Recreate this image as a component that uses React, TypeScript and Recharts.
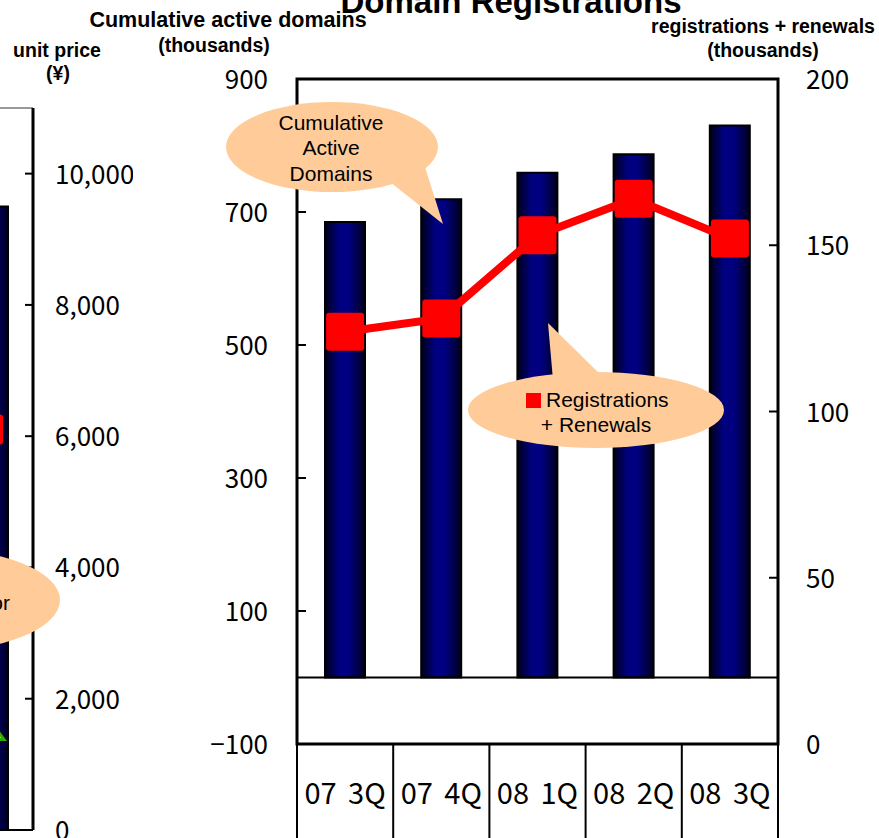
import React from "react";
import {
  ComposedChart,
  Bar,
  Line,
  XAxis,
  YAxis,
  ReferenceArea,
  ReferenceLine,
} from "recharts";

const quarters = ["07 3Q", "07 4Q", "08 1Q", "08 2Q", "08 3Q"];
const activeDomains = [685, 719, 759, 787, 830];
const regsRenewals = [124, 128, 153, 164, 152];
const domainTicks = [-100, 100, 300, 500, 700, 900];
const regTicks = [0, 50, 100, 150, 200];

// the neighbouring unit price chart, only its right edge is on the page
const priceCats = ["08 3Q"];
const priceBar = [9500];
const priceRed = [6100];
const priceGreen = [1500];
const priceTicks = [0, 2000, 4000, 6000, 8000, 10000];

const data = quarters.map((q, i) => ({ q, domains: activeDomains[i], regs: regsRenewals[i] }));
const priceData = priceCats.map((c, i) => ({
  c,
  bar: priceBar[i],
  red: priceRed[i],
  green: priceGreen[i],
}));

const PLOT_LEFT = 297;
const PLOT_RIGHT = 778;
const BAND = (PLOT_RIGHT - PLOT_LEFT) / quarters.length;
const PEACH = "#ffcc99";
const tickFont = "'Noto Sans CJK JP', sans-serif";
const textFont = "'Liberation Sans', Arial, sans-serif";

const fmt = (v: number) => (v < 0 ? "\u2212" + Math.abs(v) : String(v));

const LeftTick = (props: any) => {
  const { x, y, payload } = props;
  return (
    <g>
      <line x1={PLOT_LEFT} x2={PLOT_LEFT + 9} y1={y} y2={y} stroke="#000" strokeWidth={2} />
      <text x={x} y={y + 10} textAnchor="end" fontSize={26} fontFamily={tickFont} fill="#000">
        {fmt(payload.value)}
      </text>
    </g>
  );
};

const RightTick = (props: any) => {
  const { x, y, payload } = props;
  return (
    <g>
      <line x1={PLOT_RIGHT - 9} x2={PLOT_RIGHT} y1={y} y2={y} stroke="#000" strokeWidth={2} />
      <text x={x} y={y + 10} textAnchor="start" fontSize={26} fontFamily={tickFont} fill="#000">
        {payload.value}
      </text>
    </g>
  );
};

const QuarterTick = (props: any) => {
  const { x, y, payload, index } = props;
  return (
    <g>
      <line x1={x - BAND / 2} x2={x - BAND / 2} y1={y} y2={y + 100} stroke="#000" strokeWidth={2} />
      {index === quarters.length - 1 && (
        <line x1={x + BAND / 2} x2={x + BAND / 2} y1={y} y2={y + 100} stroke="#000" strokeWidth={2} />
      )}
      <text
        x={x}
        y={y + 60}
        textAnchor="middle"
        fontSize={29}
        wordSpacing={5}
        fontFamily={tickFont}
        fill="#000"
      >
        {payload.value}
      </text>
    </g>
  );
};

const PriceTick = (props: any) => {
  const { x, y, payload } = props;
  return (
    <g>
      <line x1={x - 30} x2={x - 22} y1={y} y2={y} stroke="#000" strokeWidth={2} />
      <text x={x} y={y + 10} textAnchor="start" fontSize={26} fontFamily={tickFont} fill="#000">
        {payload.value.toLocaleString("en-US")}
      </text>
    </g>
  );
};

const makeSquare = (size: number) => (props: any) => {
  const { cx, cy, index } = props;
  if (cx == null || cy == null) return <g key={index} />;
  return (
    <rect key={index} x={cx - size / 2} y={cy - size / 2} width={size} height={size} rx={3} fill="#ff0000" />
  );
};

const TriangleDot = (props: any) => {
  const { cx, cy, index } = props;
  if (cx == null || cy == null) return <g key={index} />;
  return (
    <polygon
      key={index}
      points={`${cx},${cy - 14} ${cx + 16},${cy + 8} ${cx - 16},${cy + 8}`}
      fill="#ffff00"
      stroke="#33aa00"
      strokeWidth={3}
    />
  );
};

const Gradient = ({ id }: { id: string }) => (
  <defs>
    <linearGradient id={id} x1="0" y1="0" x2="1" y2="0">
      <stop offset="0%" stopColor="#000018" />
      <stop offset="35%" stopColor="#000080" />
      <stop offset="60%" stopColor="#000080" />
      <stop offset="100%" stopColor="#00001c" />
    </linearGradient>
  </defs>
);

export default function App() {
  return (
    <div
      style={{
        position: "relative",
        width: 879,
        height: 838,
        overflow: "hidden",
        background: "#fff",
      }}
    >
      <style>{"html,body{margin:0;padding:0;}"}</style>
      <div style={{ position: "absolute", left: -57, top: 0 }}>
        <ComposedChart width={190} height={850} data={priceData} margin={{ top: 108, right: 0, bottom: 0, left: 0 }}>
          <Gradient id="navyBarPrice" />
          <XAxis dataKey="c" height={20} tick={false} tickLine={false} axisLine={{ stroke: "#000", strokeWidth: 2 }} />
          <YAxis
            orientation="right"
            width={100}
            domain={[0, 11000]}
            ticks={priceTicks}
            interval={0}
            axisLine={{ stroke: "#000", strokeWidth: 3 }}
            tickLine={false}
            tickSize={0}
            tickMargin={22}
            tick={PriceTick}
          />
          <ReferenceLine y={11000} stroke="#999" strokeWidth={2} />
          <Bar
            dataKey="bar"
            barSize={40}
            fill="url(#navyBarPrice)"
            stroke="#000"
            strokeWidth={2}
            isAnimationActive={false}
          />
          <Line dataKey="red" stroke="none" dot={makeSquare(30)} activeDot={false} isAnimationActive={false} />
          <Line dataKey="green" stroke="none" dot={TriangleDot} activeDot={false} isAnimationActive={false} />
        </ComposedChart>
      </div>

      <div style={{ position: "absolute", left: 0, top: 0 }}>
        <ComposedChart width={879} height={838} data={data} margin={{ top: 79, right: 0, bottom: 0, left: 0 }}>
          <Gradient id="navyBar" />
          <XAxis
            dataKey="q"
            height={94}
            axisLine={false}
            tickLine={false}
            tickSize={0}
            tickMargin={0}
            interval={0}
            tick={QuarterTick}
          />
          <YAxis
            yAxisId="left"
            width={297}
            domain={[-100, 900]}
            ticks={domainTicks}
            interval={0}
            axisLine={false}
            tickLine={false}
            tickSize={0}
            tickMargin={29}
            tick={LeftTick}
          />
          <YAxis
            yAxisId="right"
            orientation="right"
            width={101}
            domain={[0, 200]}
            ticks={regTicks}
            interval={0}
            axisLine={false}
            tickLine={false}
            tickSize={0}
            tickMargin={28}
            tick={RightTick}
          />
          <ReferenceArea yAxisId="left" y1={-100} y2={900} fill="none" stroke="#000" strokeWidth={3} />
          <ReferenceLine yAxisId="left" y={0} stroke="#000" strokeWidth={2} />
          <Bar
            yAxisId="left"
            dataKey="domains"
            barSize={40}
            fill="url(#navyBar)"
            stroke="#000"
            strokeWidth={2}
            isAnimationActive={false}
          />
          <Line
            yAxisId="right"
            dataKey="regs"
            type="linear"
            stroke="#ff0000"
            strokeWidth={8}
            dot={makeSquare(38)}
            activeDot={false}
            isAnimationActive={false}
          />
        </ComposedChart>
      </div>

      <svg
        width={879}
        height={838}
        style={{ position: "absolute", left: 0, top: 0, pointerEvents: "none" }}
      >
        <text x={511} y={13} textAnchor="middle" fontSize={33} fontWeight="bold" fontFamily={textFont}>
          Domain Registrations
        </text>
        <g fontWeight="bold" fontFamily={textFont} textAnchor="middle" fill="#000">
          <text x={228} y={27} fontSize={21.5}>Cumulative active domains</text>
          <text x={214} y={52} fontSize={19.5}>(thousands)</text>
          <text x={57} y={57} fontSize={19.5}>unit price</text>
          <text x={58} y={80} fontSize={19.5}>(¥)</text>
          <text x={763} y={33} fontSize={19.5}>registrations + renewals</text>
          <text x={763} y={57} fontSize={19.5}>(thousands)</text>
        </g>

        <ellipse cx={-70} cy={600} rx={130} ry={52} fill={PEACH} />
        <text x={10} y={610} textAnchor="end" fontSize={21} fontFamily={textFont}>
          or
        </text>

        <ellipse cx={332} cy={147} rx={106} ry={45} fill={PEACH} />
        <polygon points="390,182 425,167 443,224" fill={PEACH} />
        <g fontSize={21} fontFamily={textFont} textAnchor="middle" fill="#000">
          <text x={331} y={130}>Cumulative</text>
          <text x={331} y={155}>Active</text>
          <text x={331} y={181}>Domains</text>
        </g>

        <ellipse cx={596} cy={410} rx={128} ry={38} fill={PEACH} />
        <polygon points="548,323 553,380 602,376" fill={PEACH} />
        <rect x={526} y={393} width={15} height={15} fill="#ff0000" />
        <text x={546} y={407} fontSize={21} fontFamily={textFont} fill="#000">
          Registrations
        </text>
        <text x={596} y={432} fontSize={21} fontFamily={textFont} textAnchor="middle" fill="#000">
          + Renewals
        </text>
      </svg>
    </div>
  );
}
